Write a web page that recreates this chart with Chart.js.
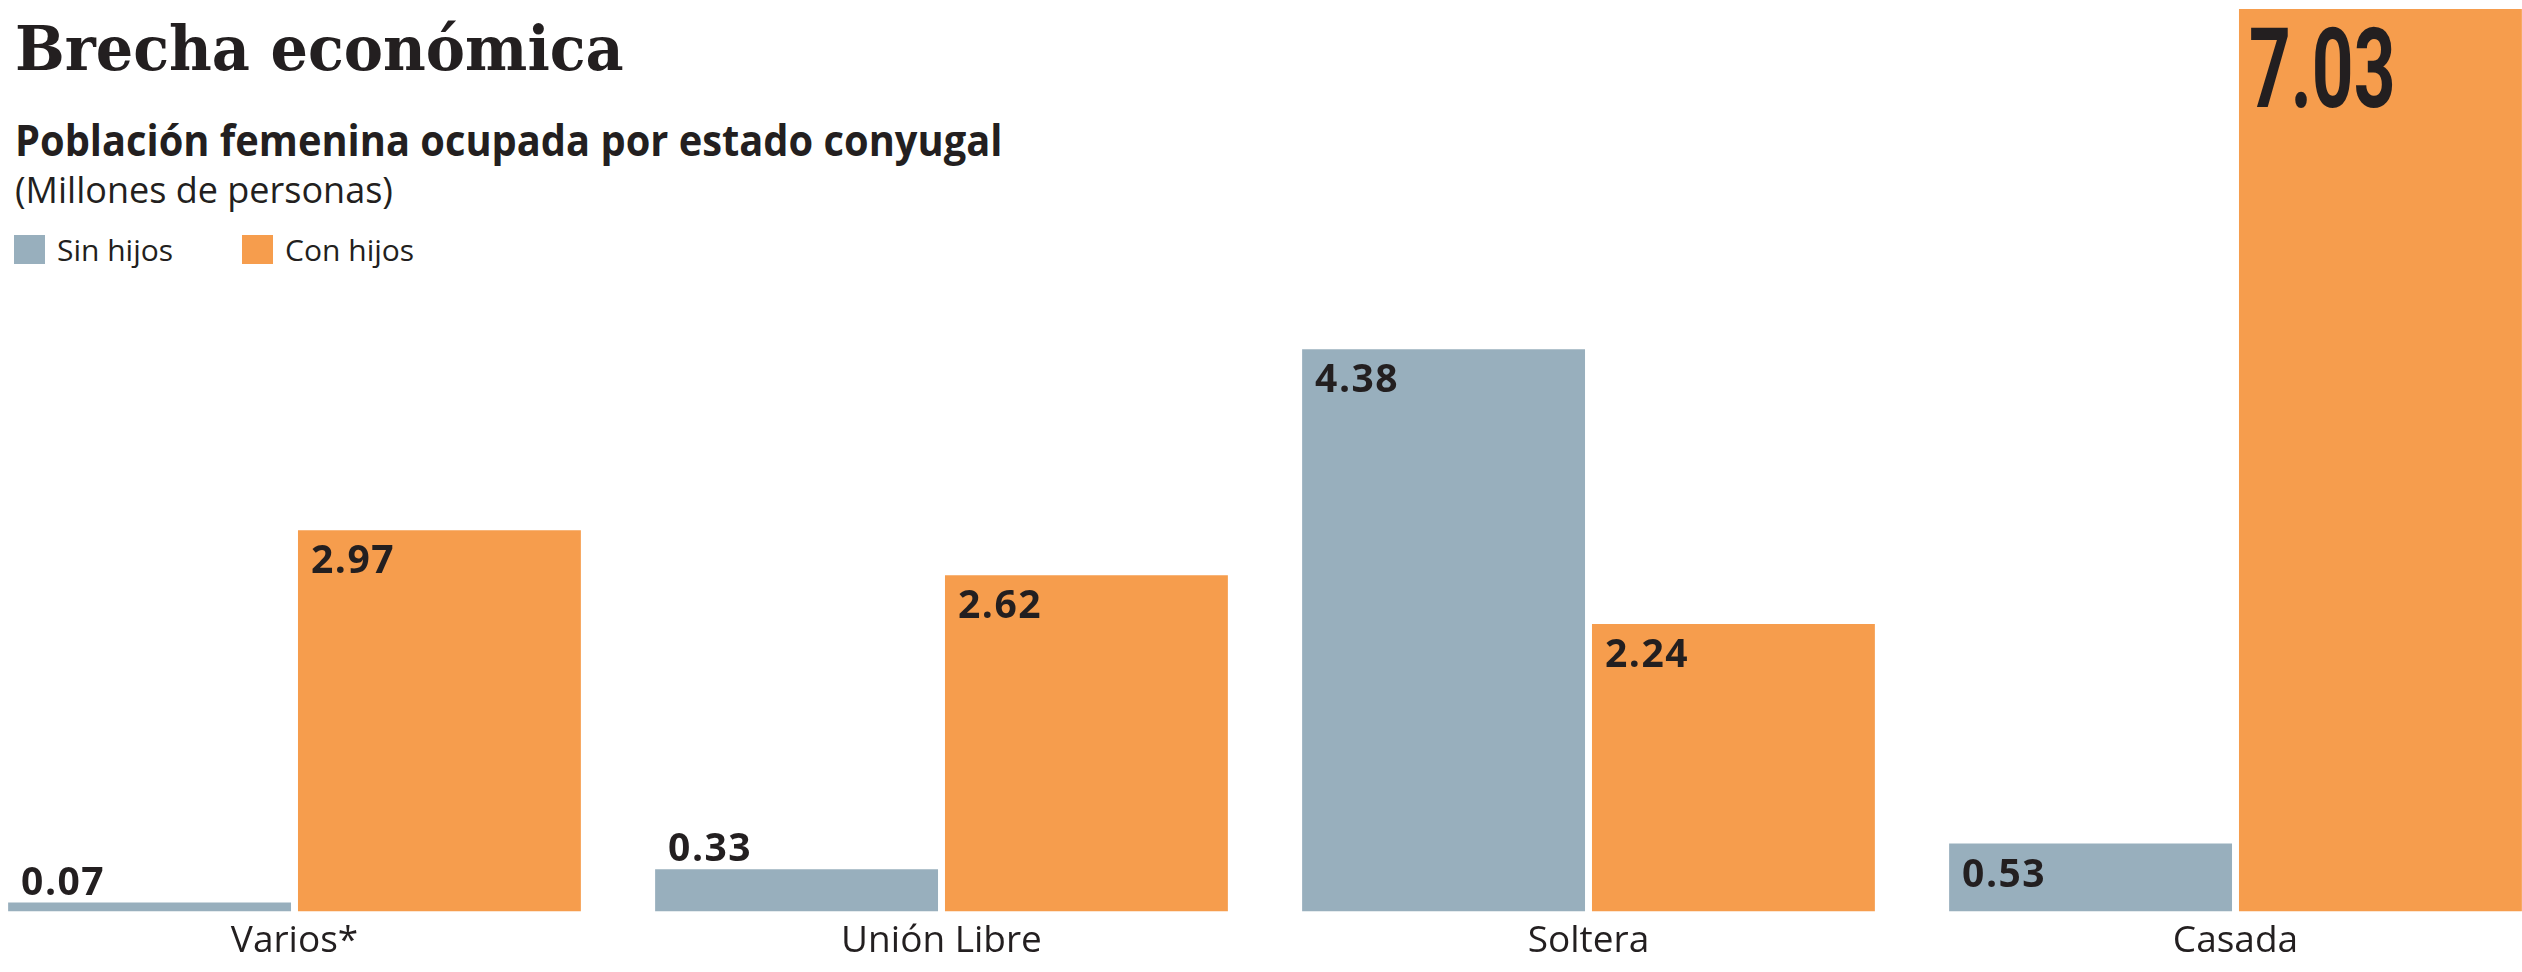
<!DOCTYPE html>
<html lang="es">
<head>
<meta charset="utf-8">
<title>Brecha económica</title>
<script src="https://cdn.jsdelivr.net/npm/chart.js@4.4.1/dist/chart.umd.min.js"></script>
<style>
    html, body { margin: 0; padding: 0; background: #fff; overflow: hidden; }
    body { width: 2522px; height: 972px; position: relative; color: #231f20; }
    #chartCanvas { position: absolute; left: -29px; top: 0; }
    .txt { position: absolute; left: 15px; line-height: 1; white-space: nowrap; transform-origin: 0 0; }
    #title { top: 13px; font: 700 61px "DejaVu Serif", serif; transform: scaleX(0.965); }
    #subtitle { top: 110px; font: 700 43px "Open Sans", sans-serif; transform: scaleX(0.926); }
    #units { top: 165px; font: 400 36px "Open Sans", sans-serif; }
    #legend { position: absolute; left: 14px; top: 235px; display: flex; align-items: center; }
    #legend .item { display: flex; align-items: center; margin-right: 69px; font: 400 30px "Open Sans", sans-serif; line-height: 29px; }
    #legend .box { width: 31px; height: 29px; margin-right: 12px; }
</style>
</head>
<body>
<div id="title" class="txt">Brecha económica</div>
<div id="subtitle" class="txt">Población femenina ocupada por estado conyugal</div>
<div id="units" class="txt">(Millones de personas)</div>
<div id="legend"></div>
<canvas id="chartCanvas" width="2588" height="972"></canvas>

<script>
// ===== Data =====
const categories = ["Varios*", "Unión Libre", "Soltera", "Casada"];
const seriesNames = ["Sin hijos", "Con hijos"];
const sinHijos = [0.07, 0.33, 4.38, 0.53];
const conHijos = [2.97, 2.62, 2.24, 7.03];
const seriesColors = ["#98afbd", "#f69d4d"];

const textColor = "#231f20";

// ===== Custom legend =====
const legendEl = document.getElementById("legend");
seriesNames.forEach((name, i) => {
    const item = document.createElement("div");
    item.className = "item";
    item.innerHTML = `<span class="box" style="background:${seriesColors[i]}"></span>${name}`;
    legendEl.appendChild(item);
});

// ===== Value labels on the bars =====
const valueLabels = {
    id: "valueLabels",
    afterDatasetsDraw(chart) {
        const ctx = chart.ctx;
        const biggest = Math.max(...sinHijos, ...conHijos);
        chart.data.datasets.forEach((ds, di) => {
            chart.getDatasetMeta(di).data.forEach((bar, i) => {
                const v = ds.data[i];
                const left = bar.x - bar.width / 2;
                const h = bar.base - bar.y;
                const label = v.toFixed(2);
                ctx.save();
                ctx.fillStyle = textColor;
                ctx.textAlign = "left";
                ctx.textBaseline = "alphabetic";
                if (v === biggest) {
                    // highlighted value: big condensed figure
                    ctx.font = "700 112px Roboto, sans-serif";
                    ctx.translate(left + 10, bar.y + 98);
                    ctx.scale(0.65, 1);
                    ctx.fillText(label, 0, 0);
                } else {
                    ctx.font = "700 39px 'Open Sans', sans-serif";
                    ctx.letterSpacing = "1.5px";
                    // tall bars get the label inside, short ones above
                    const y = h > 55 ? bar.y + 43 : bar.y - 8;
                    ctx.fillText(label, left + 13, y);
                }
                ctx.restore();
            });
        });
    }
};

new Chart(document.getElementById("chartCanvas"), {
    type: "bar",
    data: {
        labels: categories,
        datasets: [
            { label: seriesNames[0], data: sinHijos, backgroundColor: seriesColors[0], borderWidth: 0 },
            { label: seriesNames[1], data: conHijos, backgroundColor: seriesColors[1], borderWidth: 0 }
        ]
    },
    options: {
        responsive: false,
        animation: false,
        devicePixelRatio: 1,
        categoryPercentage: 0.896,
        barPercentage: 0.976,
        layout: { padding: { top: 9, bottom: 0, left: 0, right: 0 } },
        plugins: {
            legend: { display: false },
            tooltip: { enabled: false }
        },
        scales: {
            x: {
                grid: { display: false, drawTicks: false },
                border: { display: false },
                ticks: {
                    color: textColor,
                    padding: 8,
                    font: { family: "'Open Sans', sans-serif", size: 37 }
                }
            },
            y: {
                display: false,
                min: 0,
                max: Math.max(...sinHijos, ...conHijos)
            }
        }
    },
    plugins: [valueLabels]
});
</script>
</body>
</html>
